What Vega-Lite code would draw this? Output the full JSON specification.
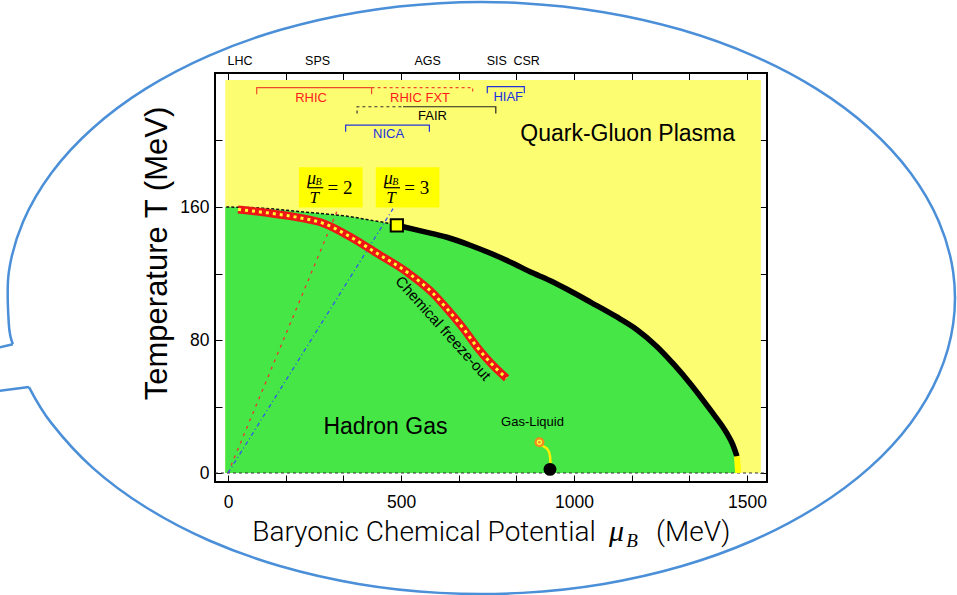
{
"$schema": "https://vega.github.io/schema/vega-lite/v6.json",
"width": 552, "height": 409,
"autosize": {"type": "none"},
"padding": {"left": 215, "top": 73, "right": 190, "bottom": 113},
"background": "white",
"config": {"view": {"stroke": "#000", "strokeWidth": 2}, "font": "Liberation Sans"},
"resolve": {"axis": {"x": "independent", "y": "independent"}, "scale": {"color": "independent", "strokeDash": "independent"}},
"datasets": {
"bg": [{"x1": -8, "x2": 1540, "y1": 0, "y2": 236.4}],
"green": [{"mu":-8,"T":160},{"mu":0,"T":160},{"mu":100,"T":159.3},{"mu":208,"T":157.2},{"mu":300,"T":155.5},{"mu":353,"T":154.2},{"mu":400,"T":152.5},{"mu":459,"T":150.4},{"mu":488,"T":149},{"mu":560,"T":145.5},{"mu":633,"T":141.8},{"mu":700,"T":137},{"mu":757,"T":132.3},{"mu":820,"T":126.5},{"mu":873,"T":121},{"mu":930,"T":115.8},{"mu":980,"T":110.5},{"mu":1050,"T":102.5},{"mu":1120,"T":94.3},{"mu":1180,"T":86.5},{"mu":1240,"T":76},{"mu":1290,"T":65},{"mu":1335,"T":54},{"mu":1393,"T":38.2},{"mu":1442,"T":23.8},{"mu":1458,"T":17.5},{"mu":1471,"T":10},{"mu":1474.5,"T":0}],
"zero": [{"x1": -37.6, "x2": 1557.8, "T": 0}],
"cross": [{"mu":-5,"T":160},{"mu":100,"T":159.3},{"mu":208,"T":157.2},{"mu":300,"T":155.5},{"mu":353,"T":154.2},{"mu":400,"T":152.5},{"mu":459,"T":150.4},{"mu":488,"T":149}],
"ratios": [{"ratio":"2","x1":0,"y1":0,"x2":316,"y2":158},{"ratio":"3","x1":0,"y1":0,"x2":477,"y2":159}],
"boxes": [{"x1":205,"x2":389,"y1":159.7,"y2":183.9},{"x1":427,"x2":611,"y1":159.7,"y2":183.9}],
"freeze": [{"mu":29,"T":158.5},{"mu":112,"T":156.5},{"mu":208,"T":153.5},{"mu":275,"T":150.2},{"mu":353,"T":142.1},{"mu":430,"T":132.2},{"mu":516,"T":121},{"mu":593,"T":108},{"mu":632,"T":99},{"mu":680,"T":87},{"mu":719,"T":76},{"mu":760,"T":66},{"mu":805,"T":57}],
"first": [{"mu":488,"T":149},{"mu":560,"T":145.5},{"mu":633,"T":141.8},{"mu":700,"T":137},{"mu":757,"T":132.3},{"mu":820,"T":126.5},{"mu":873,"T":121},{"mu":930,"T":115.8},{"mu":980,"T":110.5},{"mu":1050,"T":102.5},{"mu":1120,"T":94.3},{"mu":1180,"T":86.5},{"mu":1240,"T":76},{"mu":1290,"T":65},{"mu":1335,"T":54},{"mu":1393,"T":38.2},{"mu":1442,"T":23.8},{"mu":1458,"T":17.5},{"mu":1471,"T":10}],
"endseg": [{"mu":1471,"T":10},{"mu":1474.5,"T":0}],
"cp": [{"mu":488,"T":149}],
"glcurve": [{"mu":904,"T":17},{"mu":915,"T":15.6},{"mu":922,"T":14.6},{"mu":928,"T":12.4},{"mu":931,"T":9.5},{"mu":932,"T":6}],
"liquid": [{"mu":900,"T":18.5}],
"nuclear": [{"mu":930.6,"T":2.2}],
"brackets": [
{"fac":"RHIC","i":0,"mu":83,"T":227.8},{"fac":"RHIC","i":1,"mu":83,"T":231.8},{"fac":"RHIC","i":2,"mu":415,"T":231.8},{"fac":"RHIC","i":3,"mu":415,"T":227.8},
{"fac":"RHIC FXT","i":0,"mu":415,"T":231.8},{"fac":"RHIC FXT","i":1,"mu":707,"T":231.8},{"fac":"RHIC FXT","i":2,"mu":707,"T":227.8},
{"fac":"HIAF","i":0,"mu":749.4,"T":228.4},{"fac":"HIAF","i":1,"mu":749.4,"T":232.4},{"fac":"HIAF","i":2,"mu":856.4,"T":232.4},{"fac":"HIAF","i":3,"mu":856.4,"T":228.4},
{"fac":"FAIR planned","i":0,"mu":373,"T":216.3},{"fac":"FAIR planned","i":1,"mu":373,"T":220.3},{"fac":"FAIR planned","i":2,"mu":506,"T":220.3},
{"fac":"FAIR","i":0,"mu":506,"T":220.3},{"fac":"FAIR","i":1,"mu":774,"T":220.3},{"fac":"FAIR","i":2,"mu":774,"T":216.3},
{"fac":"NICA","i":0,"mu":340,"T":205.3},{"fac":"NICA","i":1,"mu":340,"T":209.3},{"fac":"NICA","i":2,"mu":582,"T":209.3},{"fac":"NICA","i":3,"mu":582,"T":205.3}],
"faclabels": [{"label":"RHIC","mu":240,"T":223.4},{"label":"RHIC FXT","mu":555,"T":223.4},{"label":"HIAF","mu":810,"T":223.8},{"label":"FAIR","mu":591,"T":212.6},{"label":"NICA","mu":464,"T":201.3}],
"toplabels": [{"label":"LHC","mu":34.7,"T":245.3},{"label":"SPS","mu":259,"T":245.3},{"label":"AGS","mu":577,"T":245.3},{"label":"SIS","mu":776.6,"T":245.3},{"label":"CSR","mu":863,"T":245.3}],
"regions": [{"label":"Quark-Gluon Plasma","mu":1155,"T":199.9},{"label":"Hadron Gas","mu":455,"T":23.2}],
"freezelabel": [{"label":"Chemical freeze-out","mu":622,"T":87}],
"gllabel": [{"label":"Gas-Liquid","mu":880,"T":28.5}],
"fracmu": [{"label":"μ","mu":241.6,"T":176.8},{"label":"μ","mu":463.3,"T":176.8}],
"fracB": [{"label":"B","mu":261.6,"T":175.2},{"label":"B","mu":483.3,"T":175.2}],
"fracT": [{"label":"T","mu":249.4,"T":165.2},{"label":"T","mu":471.1,"T":165.2}],
"fracbar": [{"x1":232.1,"x2":275.4,"T":171.6},{"x1":453.8,"x2":497.1,"T":171.6}],
"fraceq": [{"label":"= 2","mu":323.7,"T":171.3},{"label":"= 3","mu":545.4,"T":171.3}],
"xtitle": [{"label":"Baryonic Chemical Potential","mu":566.5,"T":-40.7}],
"xtitlemu": [{"label":"μ","mu":1101,"T":-40.7}],
"xtitleB": [{"label":"B","mu":1151,"T":-44.8}],
"xtitleunit": [{"label":"(MeV)","mu":1237,"T":-40.7}],
"bubble": [{"i":0,"mu":-575.3,"T":51.7},{"i":1,"mu":-510.4,"T":30.0},{"i":2,"mu":-391.0,"T":3.1},{"i":3,"mu":-237.5,"T":-20.6},{"i":4,"mu":-54.6,"T":-40.6},{"i":5,"mu":152.3,"T":-56.1},{"i":6,"mu":376.7,"T":-66.7},{"i":7,"mu":611.7,"T":-72.1},{"i":8,"mu":850.7,"T":-72.1},{"i":9,"mu":1085.7,"T":-66.7},{"i":10,"mu":1310.1,"T":-56.1},{"i":11,"mu":1517.0,"T":-40.6},{"i":12,"mu":1699.9,"T":-20.6},{"i":13,"mu":1853.4,"T":3.1},{"i":14,"mu":1972.8,"T":30.0},{"i":15,"mu":2054.4,"T":59.2},{"i":16,"mu":2095.9,"T":89.7},{"i":17,"mu":2095.9,"T":120.8},{"i":18,"mu":2054.4,"T":151.3},{"i":19,"mu":1972.8,"T":180.5},{"i":20,"mu":1853.4,"T":207.4},{"i":21,"mu":1699.9,"T":231.2},{"i":22,"mu":1517.0,"T":251.1},{"i":23,"mu":1310.1,"T":266.6},{"i":24,"mu":1085.7,"T":277.2},{"i":25,"mu":850.7,"T":282.6},{"i":26,"mu":611.7,"T":282.6},{"i":27,"mu":376.7,"T":277.2},{"i":28,"mu":152.3,"T":266.6},{"i":29,"mu":-54.6,"T":251.1},{"i":30,"mu":-237.5,"T":231.2},{"i":31,"mu":-391.0,"T":207.4},{"i":32,"mu":-510.4,"T":180.5},{"i":33,"mu":-592.0,"T":151.3},{"i":34,"mu":-633.5,"T":120.8},{"i":35,"mu":-633.5,"T":89.7},{"i":36,"mu":-621.9,"T":77.4}],
"tails": [{"piece":"upper","i":0,"mu":-621.9,"T":77.4},{"piece":"upper","i":1,"mu":-680,"T":74.7},{"piece":"lower","i":0,"mu":-575.3,"T":51.7},{"piece":"lower","i":1,"mu":-680,"T":48.9}]
},
"layer": [
{"data":{"name":"bg"},"mark":{"type":"rect","color":"#fdfd72"},
 "encoding":{
  "x":{"field":"x1","type":"quantitative","scale":{"domain":[-37.6,1557.8],"nice":false,"zero":false},
   "axis":{"orient":"bottom","values":[0,166.667,333.333,500,666.667,833.333,1000,1166.667,1333.333,1500],"format":"d","labelExpr":"(datum.value==0||datum.value==500||datum.value==1000||datum.value==1500)?datum.label:''","tickSize":-7,"tickColor":"#000","tickWidth":1,"labelPadding":18,"labelFontSize":17.5,"labelFont":"Liberation Sans","labelColor":"#000","domain":false,"grid":false,"title":null,"labelFlush":false,"labelOverlap":false}},
  "x2":{"field":"x2"},
  "y":{"field":"y1","type":"quantitative","scale":{"domain":[-5.41,240.6],"nice":false,"zero":false},
   "axis":{"orient":"left","values":[0,40,80,120,160,200],"format":"d","labelExpr":"(datum.value%80==0)?datum.label:''","tickSize":-7,"tickColor":"#000","tickWidth":1,"labelPadding":13,"labelFontSize":17.5,"labelFont":"Liberation Sans","labelColor":"#000","domain":false,"grid":false,"labelFlush":false,"labelOverlap":false,
    "title":"Temperature T (MeV)","titleFont":"Liberation Sans","titleFontSize":31,"titleFontWeight":"normal","titleColor":"#000","titleX":-58,"titleY":180,"titleAngle":-90,"titleAlign":"center","titleBaseline":"middle"}},
  "y2":{"field":"y2"}}},
{"data":{"name":"green"},"mark":{"type":"area","color":"#45e645","interpolate":"monotone"},
 "encoding":{"x":{"field":"mu","type":"quantitative","scale":{"domain":[-37.6,1557.8],"nice":false,"zero":false},"axis":null},
  "y":{"field":"T","type":"quantitative","scale":{"domain":[-5.41,240.6],"nice":false,"zero":false},"axis":null},"y2":{"datum":0}}},
{"data":{"name":"zero"},"mark":{"type":"rule","color":"#333","strokeWidth":1,"strokeDash":[3,3]},
 "encoding":{"x":{"field":"x1","type":"quantitative","scale":{"domain":[-37.6,1557.8],"nice":false,"zero":false},"axis":null},"x2":{"field":"x2"},
  "y":{"field":"T","type":"quantitative","scale":{"domain":[-5.41,240.6],"nice":false,"zero":false},"axis":null}}},
{"data":{"name":"cross"},"mark":{"type":"line","color":"#111","strokeWidth":1.5,"strokeDash":[3,2],"interpolate":"monotone"},
 "encoding":{"x":{"field":"mu","type":"quantitative","scale":{"domain":[-37.6,1557.8],"nice":false,"zero":false},
   "axis":{"orient":"top","values":[0,166.667,333.333,500,666.667,833.333,1000,1166.667,1333.333,1500],"labels":false,"tickSize":-7,"tickColor":"#000","tickWidth":1,"domain":false,"grid":false,"title":null}},
  "y":{"field":"T","type":"quantitative","scale":{"domain":[-5.41,240.6],"nice":false,"zero":false},
   "axis":{"orient":"right","values":[0,40,80,120,160,200],"labels":false,"tickSize":-7,"tickColor":"#000","tickWidth":1,"domain":false,"grid":false,"title":null}}}},
{"data":{"name":"ratios"},"mark":{"type":"rule","strokeWidth":1.3},
 "encoding":{"x":{"field":"x1","type":"quantitative","scale":{"domain":[-37.6,1557.8],"nice":false,"zero":false},"axis":null},"x2":{"field":"x2"},
  "y":{"field":"y1","type":"quantitative","scale":{"domain":[-5.41,240.6],"nice":false,"zero":false},"axis":null},"y2":{"field":"y2"},
  "color":{"field":"ratio","type":"nominal","scale":{"domain":["2","3"],"range":["#ee3333","#3355ee"]},"legend":null},
  "strokeDash":{"field":"ratio","type":"nominal","scale":{"domain":["2","3"],"range":[[3,5],[4,3,1,3]]},"legend":null}}},
{"data":{"name":"boxes"},"mark":{"type":"rect","color":"#ffff00"},
 "encoding":{"x":{"field":"x1","type":"quantitative","scale":{"domain":[-37.6,1557.8],"nice":false,"zero":false},"axis":null},"x2":{"field":"x2"},
  "y":{"field":"y1","type":"quantitative","scale":{"domain":[-5.41,240.6],"nice":false,"zero":false},"axis":null},"y2":{"field":"y2"}}},
{"data":{"name":"freeze"},"mark":{"type":"line","color":"#ee1515","strokeWidth":8,"interpolate":"monotone"},
 "encoding":{"x":{"field":"mu","type":"quantitative","scale":{"domain":[-37.6,1557.8],"nice":false,"zero":false},"axis":null},
  "y":{"field":"T","type":"quantitative","scale":{"domain":[-5.41,240.6],"nice":false,"zero":false},"axis":null}}},
{"data":{"name":"freeze"},"mark":{"type":"line","color":"#ffff33","strokeWidth":3,"strokeDash":[3,4],"interpolate":"monotone"},
 "encoding":{"x":{"field":"mu","type":"quantitative","scale":{"domain":[-37.6,1557.8],"nice":false,"zero":false},"axis":null},
  "y":{"field":"T","type":"quantitative","scale":{"domain":[-5.41,240.6],"nice":false,"zero":false},"axis":null}}},
{"data":{"name":"first"},"mark":{"type":"line","color":"#000","strokeWidth":5.5,"interpolate":"monotone"},
 "encoding":{"x":{"field":"mu","type":"quantitative","scale":{"domain":[-37.6,1557.8],"nice":false,"zero":false},"axis":null},
  "y":{"field":"T","type":"quantitative","scale":{"domain":[-5.41,240.6],"nice":false,"zero":false},"axis":null}}},
{"data":{"name":"endseg"},"mark":{"type":"line","color":"#ffff00","strokeWidth":6},
 "encoding":{"x":{"field":"mu","type":"quantitative","scale":{"domain":[-37.6,1557.8],"nice":false,"zero":false},"axis":null},
  "y":{"field":"T","type":"quantitative","scale":{"domain":[-5.41,240.6],"nice":false,"zero":false},"axis":null}}},
{"data":{"name":"cp"},"mark":{"type":"point","shape":"square","filled":true,"fill":"#ffff00","stroke":"#000","strokeWidth":2,"size":150,"opacity":1},
 "encoding":{"x":{"field":"mu","type":"quantitative","scale":{"domain":[-37.6,1557.8],"nice":false,"zero":false},"axis":null},
  "y":{"field":"T","type":"quantitative","scale":{"domain":[-5.41,240.6],"nice":false,"zero":false},"axis":null}}},
{"data":{"name":"glcurve"},"mark":{"type":"line","color":"#ffee00","strokeWidth":2.5,"interpolate":"monotone"},
 "encoding":{"x":{"field":"mu","type":"quantitative","scale":{"domain":[-37.6,1557.8],"nice":false,"zero":false},"axis":null},
  "y":{"field":"T","type":"quantitative","scale":{"domain":[-5.41,240.6],"nice":false,"zero":false},"axis":null}}},
{"data":{"name":"liquid"},"mark":{"type":"point","shape":"circle","filled":true,"color":"#f28a1e","size":100,"opacity":1},
 "encoding":{"x":{"field":"mu","type":"quantitative","scale":{"domain":[-37.6,1557.8],"nice":false,"zero":false},"axis":null},
  "y":{"field":"T","type":"quantitative","scale":{"domain":[-5.41,240.6],"nice":false,"zero":false},"axis":null}}},
{"data":{"name":"liquid"},"mark":{"type":"point","shape":"circle","filled":false,"color":"#ffff40","strokeWidth":1.3,"size":16,"opacity":1},
 "encoding":{"x":{"field":"mu","type":"quantitative","scale":{"domain":[-37.6,1557.8],"nice":false,"zero":false},"axis":null},
  "y":{"field":"T","type":"quantitative","scale":{"domain":[-5.41,240.6],"nice":false,"zero":false},"axis":null}}},
{"data":{"name":"nuclear"},"mark":{"type":"point","shape":"circle","filled":true,"color":"#000","size":165,"opacity":1},
 "encoding":{"x":{"field":"mu","type":"quantitative","scale":{"domain":[-37.6,1557.8],"nice":false,"zero":false},"axis":null},
  "y":{"field":"T","type":"quantitative","scale":{"domain":[-5.41,240.6],"nice":false,"zero":false},"axis":null}}},
{"data":{"name":"brackets"},"mark":{"type":"line","strokeWidth":1.2},
 "encoding":{"x":{"field":"mu","type":"quantitative","scale":{"domain":[-37.6,1557.8],"nice":false,"zero":false},"axis":null},
  "y":{"field":"T","type":"quantitative","scale":{"domain":[-5.41,240.6],"nice":false,"zero":false},"axis":null},
  "order":{"field":"i","type":"quantitative"},
  "color":{"field":"fac","type":"nominal","scale":{"domain":["RHIC","RHIC FXT","HIAF","FAIR planned","FAIR","NICA"],"range":["#ee4a2a","#ee4a2a","#2233dd","#333333","#222222","#2233dd"]},"legend":null},
  "strokeDash":{"field":"fac","type":"nominal","scale":{"domain":["RHIC","RHIC FXT","HIAF","FAIR planned","FAIR","NICA"],"range":[[1,0],[3,3],[1,0],[3,3],[1,0],[1,0]]},"legend":null}}},
{"data":{"name":"faclabels"},"mark":{"type":"text","fontSize":13,"font":"Liberation Sans","align":"center","baseline":"alphabetic"},
 "encoding":{"x":{"field":"mu","type":"quantitative","scale":{"domain":[-37.6,1557.8],"nice":false,"zero":false},"axis":null},
  "y":{"field":"T","type":"quantitative","scale":{"domain":[-5.41,240.6],"nice":false,"zero":false},"axis":null},
  "text":{"field":"label"},
  "color":{"field":"label","type":"nominal","scale":{"domain":["RHIC","RHIC FXT","HIAF","FAIR","NICA"],"range":["#ff1a1a","#ff1a1a","#1a2fe0","#000000","#1a2fe0"]},"legend":null}}},
{"data":{"name":"toplabels"},"mark":{"type":"text","fontSize":12.5,"font":"Liberation Sans","align":"center","baseline":"alphabetic","color":"#000"},
 "encoding":{"x":{"field":"mu","type":"quantitative","scale":{"domain":[-37.6,1557.8],"nice":false,"zero":false},"axis":null},
  "y":{"field":"T","type":"quantitative","scale":{"domain":[-5.41,240.6],"nice":false,"zero":false},"axis":null},"text":{"field":"label"}}},
{"data":{"name":"regions"},"mark":{"type":"text","fontSize":23,"font":"Liberation Sans","align":"center","baseline":"alphabetic","color":"#000"},
 "encoding":{"x":{"field":"mu","type":"quantitative","scale":{"domain":[-37.6,1557.8],"nice":false,"zero":false},"axis":null},
  "y":{"field":"T","type":"quantitative","scale":{"domain":[-5.41,240.6],"nice":false,"zero":false},"axis":null},"text":{"field":"label"}}},
{"data":{"name":"freezelabel"},"mark":{"type":"text","fontSize":15,"font":"Liberation Sans","align":"center","baseline":"middle","angle":48,"color":"#000"},
 "encoding":{"x":{"field":"mu","type":"quantitative","scale":{"domain":[-37.6,1557.8],"nice":false,"zero":false},"axis":null},
  "y":{"field":"T","type":"quantitative","scale":{"domain":[-5.41,240.6],"nice":false,"zero":false},"axis":null},"text":{"field":"label"}}},
{"data":{"name":"gllabel"},"mark":{"type":"text","fontSize":13,"font":"Liberation Sans","align":"center","baseline":"alphabetic","color":"#000"},
 "encoding":{"x":{"field":"mu","type":"quantitative","scale":{"domain":[-37.6,1557.8],"nice":false,"zero":false},"axis":null},
  "y":{"field":"T","type":"quantitative","scale":{"domain":[-5.41,240.6],"nice":false,"zero":false},"axis":null},"text":{"field":"label"}}},
{"data":{"name":"fracmu"},"mark":{"type":"text","fontSize":18,"font":"Liberation Serif","fontStyle":"italic","align":"center","baseline":"middle","color":"#000"},
 "encoding":{"x":{"field":"mu","type":"quantitative","scale":{"domain":[-37.6,1557.8],"nice":false,"zero":false},"axis":null},
  "y":{"field":"T","type":"quantitative","scale":{"domain":[-5.41,240.6],"nice":false,"zero":false},"axis":null},"text":{"field":"label"}}},
{"data":{"name":"fracB"},"mark":{"type":"text","fontSize":10,"font":"Liberation Serif","fontStyle":"italic","align":"center","baseline":"middle","color":"#000"},
 "encoding":{"x":{"field":"mu","type":"quantitative","scale":{"domain":[-37.6,1557.8],"nice":false,"zero":false},"axis":null},
  "y":{"field":"T","type":"quantitative","scale":{"domain":[-5.41,240.6],"nice":false,"zero":false},"axis":null},"text":{"field":"label"}}},
{"data":{"name":"fracT"},"mark":{"type":"text","fontSize":17,"font":"Liberation Serif","fontStyle":"italic","align":"center","baseline":"middle","color":"#000"},
 "encoding":{"x":{"field":"mu","type":"quantitative","scale":{"domain":[-37.6,1557.8],"nice":false,"zero":false},"axis":null},
  "y":{"field":"T","type":"quantitative","scale":{"domain":[-5.41,240.6],"nice":false,"zero":false},"axis":null},"text":{"field":"label"}}},
{"data":{"name":"fracbar"},"mark":{"type":"rule","color":"#000","strokeWidth":1.2},
 "encoding":{"x":{"field":"x1","type":"quantitative","scale":{"domain":[-37.6,1557.8],"nice":false,"zero":false},"axis":null},"x2":{"field":"x2"},
  "y":{"field":"T","type":"quantitative","scale":{"domain":[-5.41,240.6],"nice":false,"zero":false},"axis":null}}},
{"data":{"name":"fraceq"},"mark":{"type":"text","fontSize":19,"font":"Liberation Serif","align":"center","baseline":"middle","color":"#000"},
 "encoding":{"x":{"field":"mu","type":"quantitative","scale":{"domain":[-37.6,1557.8],"nice":false,"zero":false},"axis":null},
  "y":{"field":"T","type":"quantitative","scale":{"domain":[-5.41,240.6],"nice":false,"zero":false},"axis":null},"text":{"field":"label"}}},
{"data":{"name":"xtitle"},"mark":{"type":"text","fontSize":28,"font":"Roboto","fontWeight":300,"align":"center","baseline":"alphabetic","color":"#000"},
 "encoding":{"x":{"field":"mu","type":"quantitative","scale":{"domain":[-37.6,1557.8],"nice":false,"zero":false},"axis":null},
  "y":{"field":"T","type":"quantitative","scale":{"domain":[-5.41,240.6],"nice":false,"zero":false},"axis":null},"text":{"field":"label"}}},
{"data":{"name":"xtitlemu"},"mark":{"type":"text","fontSize":30,"font":"Liberation Serif","fontStyle":"italic","align":"left","baseline":"alphabetic","color":"#000"},
 "encoding":{"x":{"field":"mu","type":"quantitative","scale":{"domain":[-37.6,1557.8],"nice":false,"zero":false},"axis":null},
  "y":{"field":"T","type":"quantitative","scale":{"domain":[-5.41,240.6],"nice":false,"zero":false},"axis":null},"text":{"field":"label"}}},
{"data":{"name":"xtitleB"},"mark":{"type":"text","fontSize":19,"font":"Liberation Serif","fontStyle":"italic","align":"left","baseline":"alphabetic","color":"#000"},
 "encoding":{"x":{"field":"mu","type":"quantitative","scale":{"domain":[-37.6,1557.8],"nice":false,"zero":false},"axis":null},
  "y":{"field":"T","type":"quantitative","scale":{"domain":[-5.41,240.6],"nice":false,"zero":false},"axis":null},"text":{"field":"label"}}},
{"data":{"name":"xtitleunit"},"mark":{"type":"text","fontSize":28,"font":"Roboto","fontWeight":300,"align":"left","baseline":"alphabetic","color":"#000"},
 "encoding":{"x":{"field":"mu","type":"quantitative","scale":{"domain":[-37.6,1557.8],"nice":false,"zero":false},"axis":null},
  "y":{"field":"T","type":"quantitative","scale":{"domain":[-5.41,240.6],"nice":false,"zero":false},"axis":null},"text":{"field":"label"}}},
{"data":{"name":"bubble"},"mark":{"type":"line","color":"#4a8fd8","strokeWidth":2.5,"interpolate":"cardinal"},
 "encoding":{"x":{"field":"mu","type":"quantitative","scale":{"domain":[-37.6,1557.8],"nice":false,"zero":false},"axis":null},
  "y":{"field":"T","type":"quantitative","scale":{"domain":[-5.41,240.6],"nice":false,"zero":false},"axis":null},
  "order":{"field":"i","type":"quantitative"}}},
{"data":{"name":"tails"},"mark":{"type":"line","color":"#4a8fd8","strokeWidth":2.5},
 "encoding":{"x":{"field":"mu","type":"quantitative","scale":{"domain":[-37.6,1557.8],"nice":false,"zero":false},"axis":null},
  "y":{"field":"T","type":"quantitative","scale":{"domain":[-5.41,240.6],"nice":false,"zero":false},"axis":null},
  "detail":{"field":"piece"},"order":{"field":"i","type":"quantitative"}}}
]
}
